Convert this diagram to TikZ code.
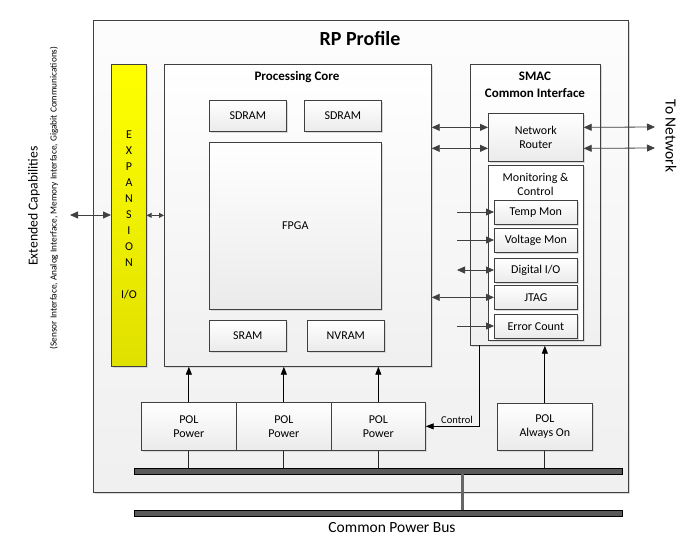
\documentclass[tikz,border=0pt]{standalone}
\usepackage{fontspec}
\setmainfont{Carlito}
\usetikzlibrary{arrows.meta,shadows}
\begin{document}
\begin{tikzpicture}[x=1pt,y=-1pt,
  shade/.style={drop shadow={shadow xshift=2pt,shadow yshift=-2pt,fill=black!15,opacity=1}},
  box/.style={draw=black!75, line width=0.7pt, top color=white, bottom color=black!8,
    anchor=north west, inner sep=0pt, align=center, shade,
    font=\fontsize{12}{14}\selectfont},
  biarrow/.style={{Triangle[width=7pt,length=8pt]}-{Triangle[width=7pt,length=8pt]}, draw=black!75, line width=0.8pt},
  uniarrow/.style={-{Triangle[width=7pt,length=8pt]}, draw=black!75, line width=0.8pt},
  uparrow/.style={-{Triangle[width=6pt,length=8pt]}, draw=black, line width=0.9pt},
  busline/.style={draw=black!85, line width=0.9pt},
  bus/.style={draw=black, fill=black!65, line width=0.7pt, anchor=north west, inner sep=0pt, minimum height=6pt},
  lbl/.style={inner sep=0pt, align=center}
]
\useasboundingbox (0,0) rectangle (699,554);

% outer box
\node[box, top color=black!1, bottom color=black!6, minimum width=535pt, minimum height=472pt] (rp) at (93,20) {};
\node[lbl, font=\fontsize{20}{22}\selectfont\bfseries] (title) at (360,39) {RP Profile};

% expansion
\node[box, top color=yellow, bottom color=yellow!88!black, minimum width=35pt, minimum height=302pt] (exp) at (111,64) {};
\node[lbl, font=\fontsize{12}{16}\selectfont] (exptext) at (129,215) {E\\X\\P\\A\\N\\S\\I\\O\\N\\[16pt]I/O};

% processing core
\node[box, bottom color=black!6, minimum width=267pt, minimum height=302pt] (core) at (164,64) {};
\node[lbl, font=\fontsize{13}{15}\selectfont\bfseries] (coretitle) at (297,77) {Processing Core};
\node[box, minimum width=77pt, minimum height=31pt] (sd1) at (209,100) {SDRAM};
\node[box, minimum width=77pt, minimum height=31pt] (sd2) at (304,100) {SDRAM};
\node[box, minimum width=172pt, minimum height=167pt] (fpga) at (209,142) {FPGA};
\node[box, minimum width=77pt, minimum height=31pt] (sram) at (209,320) {SRAM};
\node[box, minimum width=77pt, minimum height=31pt] (nvram) at (307,320) {NVRAM};

% SMAC
\node[box, bottom color=black!6, minimum width=130pt, minimum height=281pt] (smac) at (470,64) {};
\node[lbl, font=\fontsize{13}{17}\selectfont\bfseries] (smactitle) at (535,84.5) {SMAC\\Common Interface};
\node[box, minimum width=95pt, minimum height=48pt] (router) at (488,113) {Network\\Router};
\node[box, top color=white, bottom color=white, minimum width=95pt, minimum height=175pt] (mon) at (488,165) {};
\node[lbl, font=\fontsize{12}{14}\selectfont] (montitle) at (535.5,184) {Monitoring \&\\Control};
\node[box, minimum width=83pt, minimum height=24pt] (temp) at (494,200) {Temp Mon};
\node[box, minimum width=83pt, minimum height=24pt] (volt) at (494,228) {Voltage Mon};
\node[box, minimum width=83pt, minimum height=24pt] (dio) at (494,258) {Digital I/O};
\node[box, minimum width=83pt, minimum height=24pt] (jtag) at (494,285) {JTAG};
\node[box, minimum width=83pt, minimum height=24pt] (err) at (494,314) {Error Count};

% POL boxes
\node[box, minimum width=95pt, minimum height=48pt] (pol1) at (141,402) {POL\\Power};
\node[box, minimum width=95pt, minimum height=48pt] (pol2) at (236,402) {POL\\Power};
\node[box, minimum width=94pt, minimum height=48pt] (pol3) at (331,402) {POL\\Power};
\node[box, minimum width=95pt, minimum height=47pt] (pola) at (497,403) {POL\\Always On};

% buses
\node[bus, minimum width=488pt] (bus1) at (134,468) {};
\node[bus, minimum width=488pt] (bus2) at (134,510) {};
\coordinate (bj) at (462,474);
\draw[draw=black!60, line width=3pt] (bj) -- (bj |- bus2.north);

\foreach \p in {pol1,pol2,pol3,pola} {
  \draw[busline] (\p.south) -- (\p.south |- bus1.north);
}
\draw[uparrow] (pol1.north) -- (pol1.north |- core.south);
\draw[uparrow] (pol2.north) -- (pol2.north |- core.south);
\draw[uparrow] (pol3.north) -- (pol3.north |- core.south);
\draw[uparrow] (pola.north) -- (pola.north |- smac.south);

% control
\coordinate (ctl) at (479,345);
\draw[uparrow] (ctl) |- (pol3.east);
\node[lbl, font=\fontsize{10.5}{12}\selectfont] (ctllbl) at (457,420) {Control};

% router arrows
\coordinate (r1) at ([yshift=10pt]router.west);
\coordinate (r2) at ([yshift=-11pt]router.west);
\coordinate (n1) at (655,127);
\coordinate (n2) at (655,148);
\draw[biarrow] (core.east |- r1) -- (r1);
\draw[biarrow] (core.east |- r2) -- (r2);
\draw[biarrow] (r1 -| router.east) -- (n1);
\draw[biarrow] (r2 -| router.east) -- (n2);

% monitoring arrows
\coordinate (m1) at (457,212);
\coordinate (m2) at (457,240);
\coordinate (m3) at (457,270);
\coordinate (m5) at (457,326);
\draw[uniarrow] (m1) -- (m1 -| temp.west);
\draw[uniarrow] (m2) -- (m2 -| volt.west);
\draw[biarrow] (m3) -- (m3 -| dio.west);
\draw[biarrow] (core.east |- jtag.west) -- (jtag.west);
\draw[uniarrow] (m5) -- (m5 -| err.west);

% expansion arrows
\coordinate (ext) at (70,215);
\draw[biarrow] (ext) -- (ext -| exp.west);
\draw[{Triangle[width=5pt,length=5pt]}-{Triangle[width=5pt,length=5pt]}, draw=black!75, line width=0.8pt] (exp.east) -- (exp.east -| core.west);

% side texts
\node[lbl, rotate=90, font=\fontsize{13.7}{16}\selectfont] (extcap) at (34,206) {Extended Capabilities};
\node[lbl, rotate=90, font=\fontsize{9.3}{10}\selectfont] (extsub) at (54,198) {(Sensor Interface, Analog Interface, Memory Interface, Gigabit Communications)};
\node[lbl, rotate=-90, font=\fontsize{15.5}{18}\selectfont] (tonet) at (671,136) {To Network};
\node[lbl, font=\fontsize{15.5}{18}\selectfont] (cpb) at (392,528) {Common Power Bus};
\end{tikzpicture}
\end{document}
